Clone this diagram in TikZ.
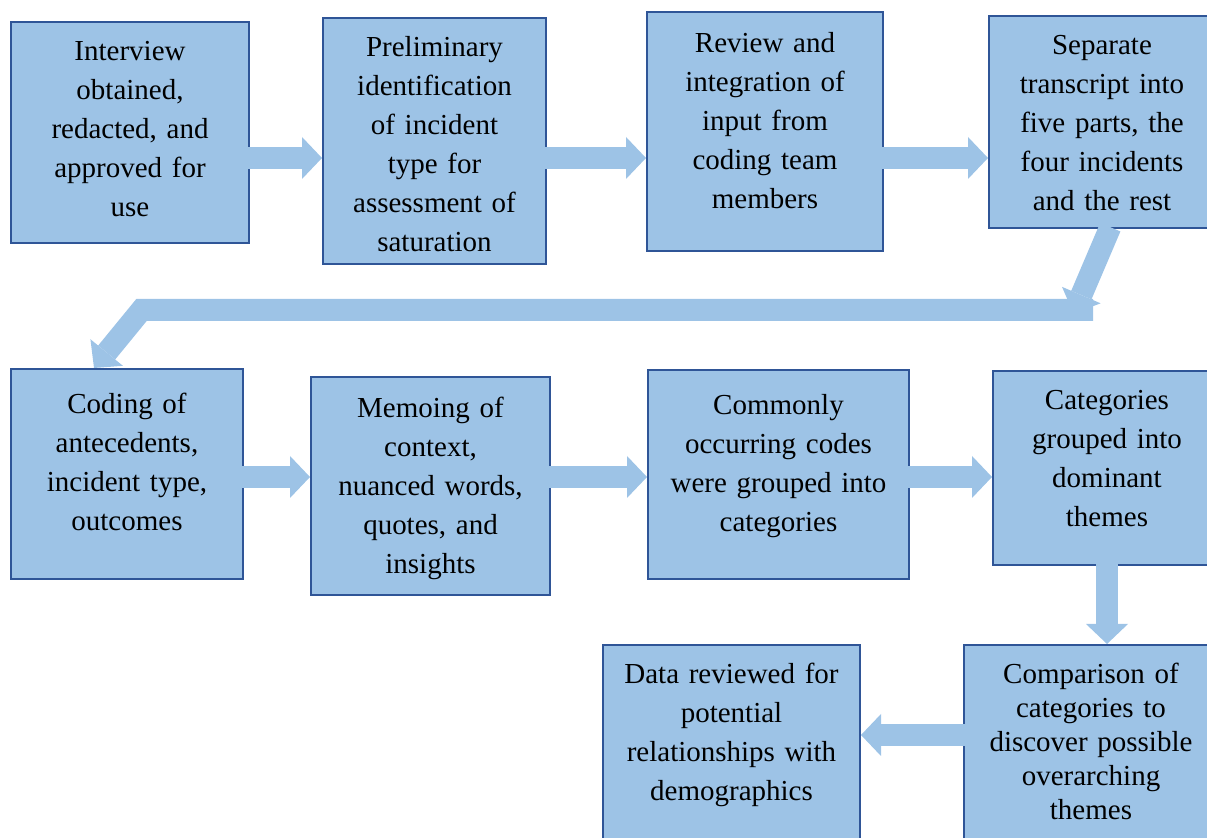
\documentclass[tikz,border=0pt]{standalone}
\usepackage{fontspec}
\setmainfont{Liberation Serif}
\usetikzlibrary{arrows.meta}
\definecolor{boxfill}{HTML}{9DC3E6}
\definecolor{boxline}{HTML}{2F5597}
\definecolor{flowblue}{HTML}{9DC3E6}
\tikzset{
    stage/.style={draw=boxline, fill=boxfill, line width=1pt, anchor=north west,
        align=center, inner sep=0pt, text height=19.5pt,
        font=\fontsize{14.5}{19.5}\selectfont},
    flow/.style={draw=flowblue, line width=11pt, shorten <=-1pt,
        -{Triangle[length=10pt, width=21pt, line width=0pt]}}
}
\begin{document}
\begin{tikzpicture}[x=0.5pt, y=-0.5pt]
        \useasboundingbox (0,0) rectangle (1207,838);
        % first row
        \node[stage, text width=119pt, text depth=91pt] (interview) at (10,21) {Interview\\obtained,\\redacted, and\\approved for\\use};
        \node[stage, text width=111.5pt, text depth=103.5pt] (prelim) at (322,17) {Preliminary\\identification\\of incident\\type for\\assessment of\\saturation};
        \node[stage, text width=118pt, text height=20.5pt, text depth=99pt] (review) at (646,11) {Review and\\integration of\\input from\\coding team\\members};
        \node[stage, text width=113pt, text depth=86.5pt] (separate) at (988,15) {Separate\\transcript into\\five parts, the\\four incidents\\and the rest};
        % second row
        \node[stage, text width=116pt, text height=22.5pt, text depth=82.5pt] (coding) at (10,368) {Coding of\\antecedents,\\incident type,\\outcomes};
        \node[stage, text width=119.5pt, text height=20.5pt, text depth=88.5pt] (memo) at (310,376) {Memoing of\\context,\\nuanced words,\\quotes, and\\insights};
        \node[stage, text width=130.5pt, text height=22.5pt, text depth=82pt] (common) at (647,369) {Commonly\\occurring codes\\were grouped into\\categories};
        \node[stage, text width=114pt, text depth=77.5pt] (categ) at (992,370) {Categories\\grouped into\\dominant\\themes};
        % third row
        \node[stage, text width=128.5pt, text depth=100.5pt] (datarev) at (602,644) {Data reviewed for\\potential\\relationships with\\demographics};
        \node[stage, text width=127pt, text depth=100.5pt, font=\fontsize{14.5}{17}\selectfont] (compar) at (963,644) {Comparison of\\categories to\\discover possible\\overarching\\themes};
        % arrows
        \coordinate (row1) at (0,158);
        \coordinate (row2) at (0,477);
        \coordinate (row3) at (0,735);
        \draw[flow] (interview.east |- row1) -- (prelim.west |- row1);
        \draw[flow] (prelim.east |- row1) -- (review.west |- row1);
        \draw[flow] (review.east |- row1) -- (separate.west |- row1);
        \coordinate (bandend) at (1091,310);
        \coordinate (bendpt) at (141.5,310);
        \coordinate (bandhit) at (1073.5,313.5);
        \draw[flow] (bandend) -- (bendpt) -- ([xshift=42pt]coding.north west);
        \draw[flow] ([xshift=60.75pt]separate.south west) -- (bandhit);
        \draw[flow] (coding.east |- row2) -- (memo.west |- row2);
        \draw[flow] (memo.east |- row2) -- (common.west |- row2);
        \draw[flow] (common.east |- row2) -- (categ.west |- row2);
        \draw[flow] (categ.south) -- (categ.south |- compar.north);
        \draw[flow] (compar.west |- row3) -- (datarev.east |- row3);
    \end{tikzpicture}
\end{document}
